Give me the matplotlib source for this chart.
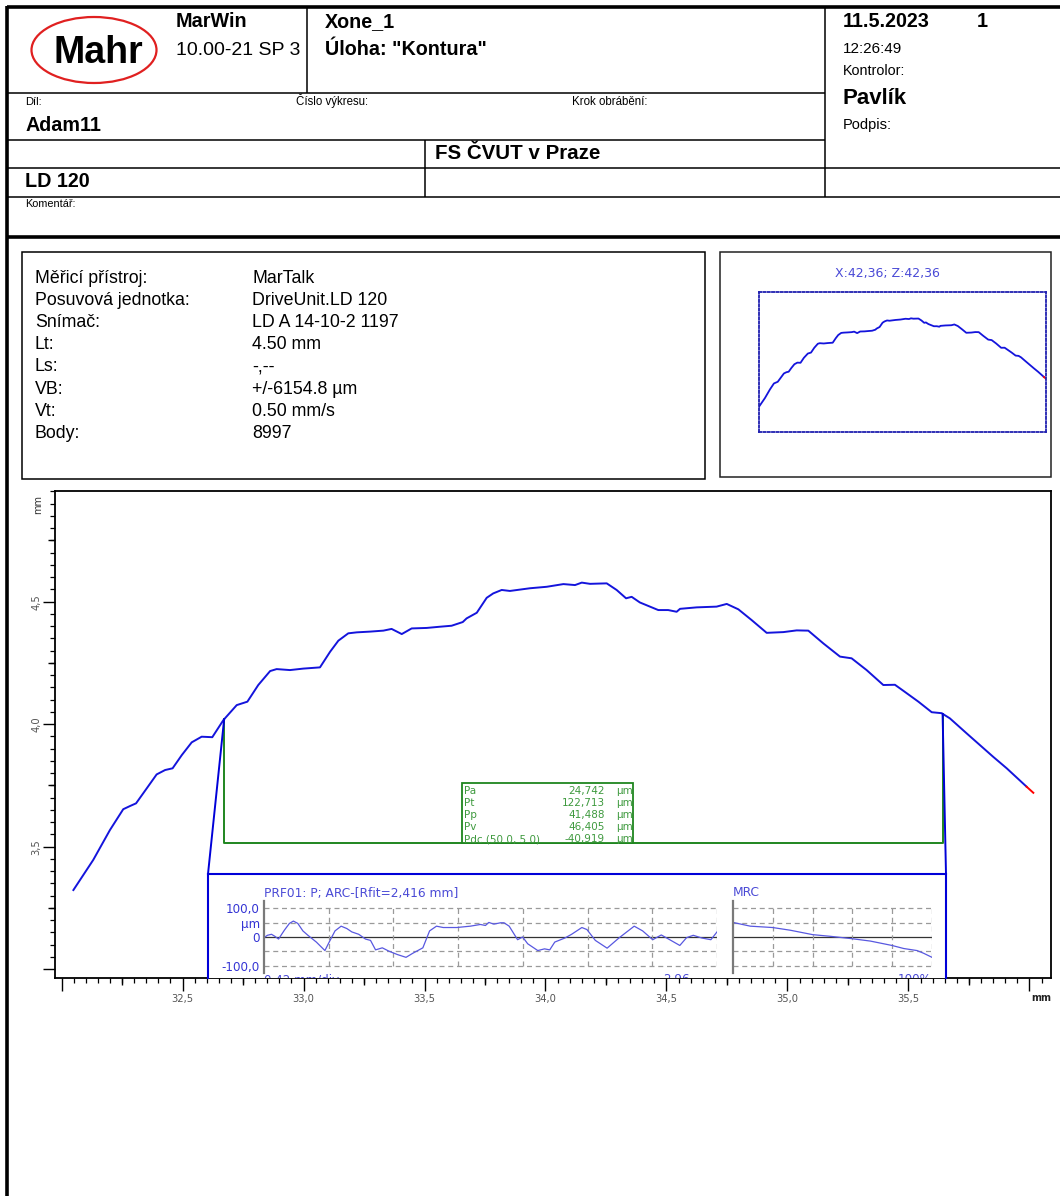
import matplotlib
matplotlib.use("Agg")
import matplotlib.pyplot as plt
import numpy as np
from matplotlib.patches import Ellipse, Rectangle, ConnectionPatch
from matplotlib.lines import Line2D
from matplotlib.ticker import FixedLocator, FuncFormatter

# ---------------------------------------------------------------- data
profile_x = [32.049, 32.131, 32.200, 32.255, 32.283, 32.308, 32.352, 32.393, 32.428, 32.459,
             32.497, 32.538, 32.579, 32.623, 32.669, 32.724, 32.768, 32.813, 32.862, 32.889,
             32.944, 32.999, 33.068, 33.110, 33.144, 33.185, 33.220, 33.275, 33.330, 33.364,
             33.406, 33.447, 33.509, 33.564, 33.612, 33.658, 33.674, 33.716, 33.757, 33.784,
             33.819, 33.853, 33.936, 34.005, 34.074, 34.122, 34.150, 34.184, 34.253, 34.294,
             34.333, 34.356, 34.390, 34.466, 34.507, 34.542, 34.556, 34.625, 34.707, 34.749,
             34.797, 34.852, 34.914, 34.983, 35.038, 35.086, 35.148, 35.217, 35.265, 35.327,
             35.396, 35.444, 35.478, 35.541, 35.596, 35.637, 35.671, 35.740, 35.850, 35.906,
             35.988, 36.016]
profile_z = [3.323, 3.446, 3.568, 3.653, 3.666, 3.677, 3.738, 3.795, 3.813, 3.820,
             3.874, 3.926, 3.949, 3.947, 4.017, 4.078, 4.092, 4.160, 4.217, 4.225,
             4.221, 4.227, 4.232, 4.296, 4.341, 4.371, 4.375, 4.378, 4.382, 4.389,
             4.368, 4.391, 4.393, 4.398, 4.402, 4.417, 4.432, 4.455, 4.516, 4.534,
             4.548, 4.544, 4.555, 4.561, 4.572, 4.568, 4.578, 4.573, 4.575, 4.548,
             4.514, 4.520, 4.497, 4.466, 4.466, 4.459, 4.471, 4.477, 4.480, 4.491,
             4.469, 4.425, 4.373, 4.376, 4.383, 4.382, 4.330, 4.276, 4.269, 4.221,
             4.160, 4.161, 4.137, 4.092, 4.049, 4.045, 4.024, 3.963, 3.867, 3.820,
             3.745, 3.720]

eval_start = 32.672
eval_end = 35.641

param_names = ["Pa", "Pt", "Pp", "Pv", "Pdc (50.0, 5.0)"]
param_values = [24.742, 122.713, 41.488, 46.405, -40.919]

# evaluated roughness profile, x in mm along the evaluation length, z in um
rough_x = [0.000, 0.022, 0.049, 0.071, 0.095, 0.133, 0.166, 0.192, 0.221, 0.254,
           0.287, 0.342, 0.398, 0.426, 0.464, 0.504, 0.541, 0.574, 0.619, 0.663,
           0.696, 0.729, 0.773, 0.817, 0.873, 0.928, 0.972, 1.038, 1.082, 1.127,
           1.171, 1.259, 1.348, 1.414, 1.447, 1.469, 1.502, 1.546, 1.568, 1.602,
           1.657, 1.690, 1.723, 1.789, 1.833, 1.867, 1.900, 1.966, 2.010, 2.077,
           2.110, 2.165, 2.242, 2.319, 2.419, 2.474, 2.540, 2.596, 2.651, 2.717,
           2.761, 2.805, 2.861, 2.920, 2.960]
rough_z = [-2.4, 5.9, 9.4, 2.4, -7.1, 23.5, 47.1, 55.3, 47.1, 21.2,
           5.9, -17.6, -47.1, -17.6, 21.2, 37.6, 29.4, 17.6, 9.4, -7.1,
           -11.8, -44.7, -37.6, -49.4, -61.2, -70.6, -56.5, -37.6, 21.2, 37.6,
           32.9, 32.9, 37.6, 43.5, 40.0, 50.6, 44.7, 49.4, 49.4, 37.6,
           -9.4, 0.0, -23.5, -47.1, -41.2, -44.7, -17.6, -3.5, 9.4, 32.9,
           25.9, -11.8, -38.8, -3.5, 37.6, 21.2, -9.4, 7.1, -9.4, -29.4,
           -2.4, 5.9, -3.5, -9.4, 17.6]
eval_length = 2.96
scale_labels = ["0,42 mm/div", "2,96", "100%"]

# material ratio curve
mrc_pct = [0, 8.7, 19.9, 28.8, 40.0, 48.9, 59.8, 69.0, 79.9, 85.8, 92.5, 95.8, 100]
mrc_z = [50.6, 37.6, 32.9, 23.5, 8.2, 2.4, -5.9, -14.1, -29.4, -40.0, -47.1, -56.5, -70.6]

info_labels = ["Měřicí přístroj:", "Posuvová jednotka:", "Snímač:", "Lt:", "Ls:",
               "VB:", "Vt:", "Body:"]
info_values = ["MarTalk", "DriveUnit.LD 120", "LD A 14-10-2 1197", "4.50 mm", "-,--",
               "+/-6154.8 µm", "0.50 mm/s", "8997"]

x_ticks = [32.0, 32.5, 33.0, 33.5, 34.0, 34.5, 35.0, 35.5, 36.0]
x_labelled = [32.5, 33.0, 33.5, 34.0, 34.5, 35.0, 35.5]
y_ticks = [3.0, 3.5, 4.0, 4.5]
y_labelled = [3.5, 4.0, 4.5]

# ---------------------------------------------------------------- page layout
W, H = 1060, 1196
fig = plt.figure(figsize=(W / 100, H / 100), dpi=100)
fig.patch.set_facecolor("white")

SANS = ["Liberation Sans", "DejaVu Sans"]
TAHOMA = ["DejaVu Sans"]
BLUE = "#1414dc"
LBLUE = "#4a4ad6"
GREEN = "#1f861f"
TGREEN = "#3f9a3f"
HB = 14.2  # bold header size


def fx(x):
    return x / W


def fy(y):
    return 1 - y / H


def rect(x0, y0, x1, y1):
    return [fx(x0), fy(y1), (x1 - x0) / W, (y1 - y0) / H]


def line(xs, ys, lw=1.1, color="black", **kw):
    fig.add_artist(Line2D([fx(v) for v in xs], [fy(v) for v in ys],
                          transform=fig.transFigure, lw=lw, color=color,
                          solid_capstyle="butt", **kw))


def text(x, y, s, size=10, weight="normal", color="black", ha="left", va="baseline",
         family=SANS, **kw):
    return fig.text(fx(x), fy(y), s, fontsize=size, fontweight=weight, color=color,
                    ha=ha, va=va, family=family, **kw)


# header frame
line([7, W], [7, 7], lw=2.6)
line([7, 7], [6, H], lw=2.6)
line([307, 307], [7, 93])
line([825, 825], [7, 197])
line([7, 825], [93, 93])
line([7, 825], [140, 140])
line([7, W], [168, 168])
line([425, 425], [140, 197])
line([7, W], [197, 197])
line([7, W], [237, 237], lw=2.6)

# logo
fig.add_artist(Ellipse((fx(94), fy(50)), 125 / W, 66 / H, transform=fig.transFigure,
                       fill=False, edgecolor="#e02020", lw=1.6))
text(98, 63, "Mahr", size=27, weight="bold", ha="center")

text(176, 27, "MarWin", size=HB, weight="bold")
text(176, 55, "10.00-21 SP 3", size=14)
text(325, 27, "Xone_1", size=HB, weight="bold")
text(325, 55, "Úloha: \"Kontura\"", size=HB, weight="bold")
text(25, 105, "Díl:", size=8)
text(296, 105, "Číslo výkresu:", size=8.3)
text(572, 105, "Krok obrábění:", size=8.3)
text(25, 131, "Adam11", size=HB, weight="bold")
text(435, 159, "FS ČVUT v Praze", size=14.8, weight="bold")
text(25, 187, "LD 120", size=HB, weight="bold")
text(25, 207, "Komentář:", size=7.8)
text(843, 27, "11.5.2023", size=HB, weight="bold")
text(977, 27, "1", size=HB, weight="bold")
text(843, 53, "12:26:49", size=11)
text(843, 75, "Kontrolor:", size=10.3)
text(843, 104, "Pavlík", size=16, weight="bold")
text(843, 129, "Podpis:", size=10.5)

# measurement info box
fig.add_artist(Rectangle((fx(22), fy(479)), 683 / W, 227 / H, transform=fig.transFigure,
                         fill=False, edgecolor="black", lw=1.1))
for i, (lab, val) in enumerate(zip(info_labels, info_values)):
    yb = 283 + i * 22.1
    text(35, yb, lab, size=12.8)
    text(252, yb, val, size=12.8)

# overview box
fig.add_artist(Rectangle((fx(720), fy(477)), 331 / W, 225 / H, transform=fig.transFigure,
                         fill=False, edgecolor="#222222", lw=1.1))
text(887, 274, "X:42,36; Z:42,36", size=9, color=LBLUE, ha="center", va="center",
     family=TAHOMA)
mini = fig.add_axes(rect(759, 292, 1046, 432))
mini.plot(profile_x[:-1], profile_z[:-1], color=BLUE, lw=1.3)
mini.plot(profile_x[-2:], profile_z[-2:], color="red", lw=1.3)
mini.set_xlim(profile_x[0], profile_x[-1])
mini.set_ylim(2.964, 4.952)
mini.set_xticks([])
mini.set_yticks([])
for sp in mini.spines.values():
    sp.set_linestyle((0, (1.2, 1.2)))
    sp.set_color("#2020b0")
    sp.set_linewidth(1.3)

# ---------------------------------------------------------------- main profile chart
ax = fig.add_axes(rect(55, 491, 1051, 978))
ax.plot(profile_x[:-1], profile_z[:-1], color=BLUE, lw=1.4, zorder=3)
ax.plot(profile_x[-2:], profile_z[-2:], color="red", lw=1.4, zorder=3)
ax.set_xlim(31.973, 36.089)
ax.set_ylim(2.964, 4.952)

tick_col = "#555555"
ax.xaxis.set_major_locator(FixedLocator(x_ticks))
ax.xaxis.set_minor_locator(FixedLocator(np.round(np.arange(31.95, 36.09, 0.05), 2)))
ax.xaxis.set_major_formatter(FuncFormatter(
    lambda v, p: (f"{v:.1f}".replace(".", ",") if any(abs(v - t) < 1e-6 for t in x_labelled) else "")))
ax.yaxis.set_major_locator(FixedLocator(y_ticks))
ax.yaxis.set_minor_locator(FixedLocator(np.round(np.arange(2.95, 4.96, 0.05), 2)))
ax.yaxis.set_major_formatter(FuncFormatter(
    lambda v, p: (f"{v:.1f}".replace(".", ",") if any(abs(v - t) < 1e-6 for t in y_labelled) else "")))
ax.tick_params(which="major", direction="out", length=9, width=1.0, labelsize=7.2,
               labelcolor=tick_col, color="black")
ax.tick_params(which="minor", direction="out", length=3.3, width=0.9, color="black")
ax.tick_params(axis="x", which="major", pad=2.5)
ax.tick_params(axis="y", which="major", pad=1)
for lbl in ax.get_yticklabels():
    lbl.set_rotation(90)
    lbl.set_va("center")
for lbl in ax.get_xticklabels() + ax.get_yticklabels():
    lbl.set_family(TAHOMA)
for sp in ax.spines.values():
    sp.set_linewidth(1.3)

# quarter-millimetre ticks, slightly longer than the minor ones
qx = [v for v in np.arange(32.25, 36.09, 0.5)]
ax.plot(qx, [0] * len(qx), ls="none", marker=3, markersize=5, mew=1.0, color="black",
        transform=ax.get_xaxis_transform(), clip_on=False)
qy = [v for v in np.arange(3.25, 4.96, 0.5)]
ax.plot([0] * len(qy), qy, ls="none", marker=0, markersize=5, mew=1.0, color="black",
        transform=ax.get_yaxis_transform(), clip_on=False)

text(38, 505, "mm", size=7, color="#333333", ha="center", va="center", rotation=90,
     family=TAHOMA)
text(1041, 998, "mm", size=7, weight="bold", color="#222222", ha="center", va="center",
     family=TAHOMA)

# evaluation window
z_start = float(np.interp(eval_start, profile_x, profile_z))
z_end = float(np.interp(eval_end, profile_x, profile_z))
window_floor = 3.514
ax.plot([eval_start, eval_start, eval_end, eval_end], [z_start, window_floor, window_floor, z_end],
        color=GREEN, lw=1.4, zorder=2)

# result table
fig.add_artist(Rectangle((fx(462), fy(843)), 171 / W, 60 / H, transform=fig.transFigure,
                         facecolor="white", edgecolor=GREEN, lw=1.3, zorder=3))
for i, (nm, val) in enumerate(zip(param_names, param_values)):
    yc = 791 + i * 12
    text(464, yc, nm, size=7.5, color=TGREEN, va="center", family=TAHOMA, zorder=4)
    text(605, yc, f"{val:.3f}".replace(".", ","), size=7.5, color=TGREEN, va="center",
         ha="right", family=TAHOMA, zorder=4)
    text(616, yc, "µm", size=7.5, color=TGREEN, va="center", family=TAHOMA, zorder=4)

# ---------------------------------------------------------------- zoomed profile panel
ins = fig.add_axes(rect(208, 874, 946, 978))
ins.set_xticks([])
ins.set_yticks([])
for side in ("top", "left", "right"):
    ins.spines[side].set_color("#0000d8")
    ins.spines[side].set_linewidth(1.5)
ins.spines["bottom"].set_visible(False)

for xa, xb in ((eval_start, (0, 1)), (eval_end, (1, 1))):
    za = float(np.interp(xa, profile_x, profile_z))
    fig.add_artist(ConnectionPatch(xyA=(xa, za), coordsA=ax.transData, xyB=xb,
                                   coordsB=ins.transAxes, color="#0000d8", lw=1.4))

# scale captions sit at the panel's lower edge, only their tops show
for lbl, xpx in zip(scale_labels, (264, 663, 898)):
    ins.text((xpx - 208) / 738, 0.045, lbl, transform=ins.transAxes, fontsize=8.6,
             color=LBLUE, family=TAHOMA, ha="left", va="top", clip_on=True)

dash = (0, (4, 3))
grid_col = "#9a9a9a"


def style_sub(a, xmax, ndiv):
    a.set_xlim(0, xmax)
    a.set_ylim(-125, 125)
    a.patch.set_alpha(0)
    for side in ("top", "right", "bottom"):
        a.spines[side].set_visible(False)
    a.spines["left"].set_color("#7a7a7a")
    a.spines["left"].set_linewidth(1.6)
    for lv in (100, 50, -50, -100):
        a.axhline(lv, color=grid_col, lw=0.9, ls=dash)
    a.axhline(0, color="#333333", lw=0.9)
    a.vlines([xmax * k / ndiv for k in range(1, ndiv + 1)], -100, 100, color=grid_col,
             lw=0.9, ls=dash)
    a.set_xticks([])


prf = fig.add_axes(rect(264, 901, 717, 973))
style_sub(prf, eval_length, 7)
prf.plot(rough_x, rough_z, color="#5858e0", lw=0.9)
prf.set_yticks([100, 50, 0, -100])
prf.set_yticklabels(["100,0", "µm", "0", "-100,0"], family=TAHOMA)
prf.tick_params(axis="y", length=0, pad=3, labelsize=8.6, labelcolor="#3434d4")

mrc = fig.add_axes(rect(733, 901, 932, 973))
style_sub(mrc, 100, 5)
mrc.plot(mrc_pct, mrc_z, color="#5858e0", lw=0.9)
mrc.set_yticks([])

text(264, 893, "PRF01: P; ARC-[Rfit=2,416 mm]", size=8.8, color=LBLUE, va="center",
     family=TAHOMA)
text(733, 893, "MRC", size=8.8, color=LBLUE, va="center", family=TAHOMA)

fig.savefig("out.png", dpi=100, facecolor="white")
